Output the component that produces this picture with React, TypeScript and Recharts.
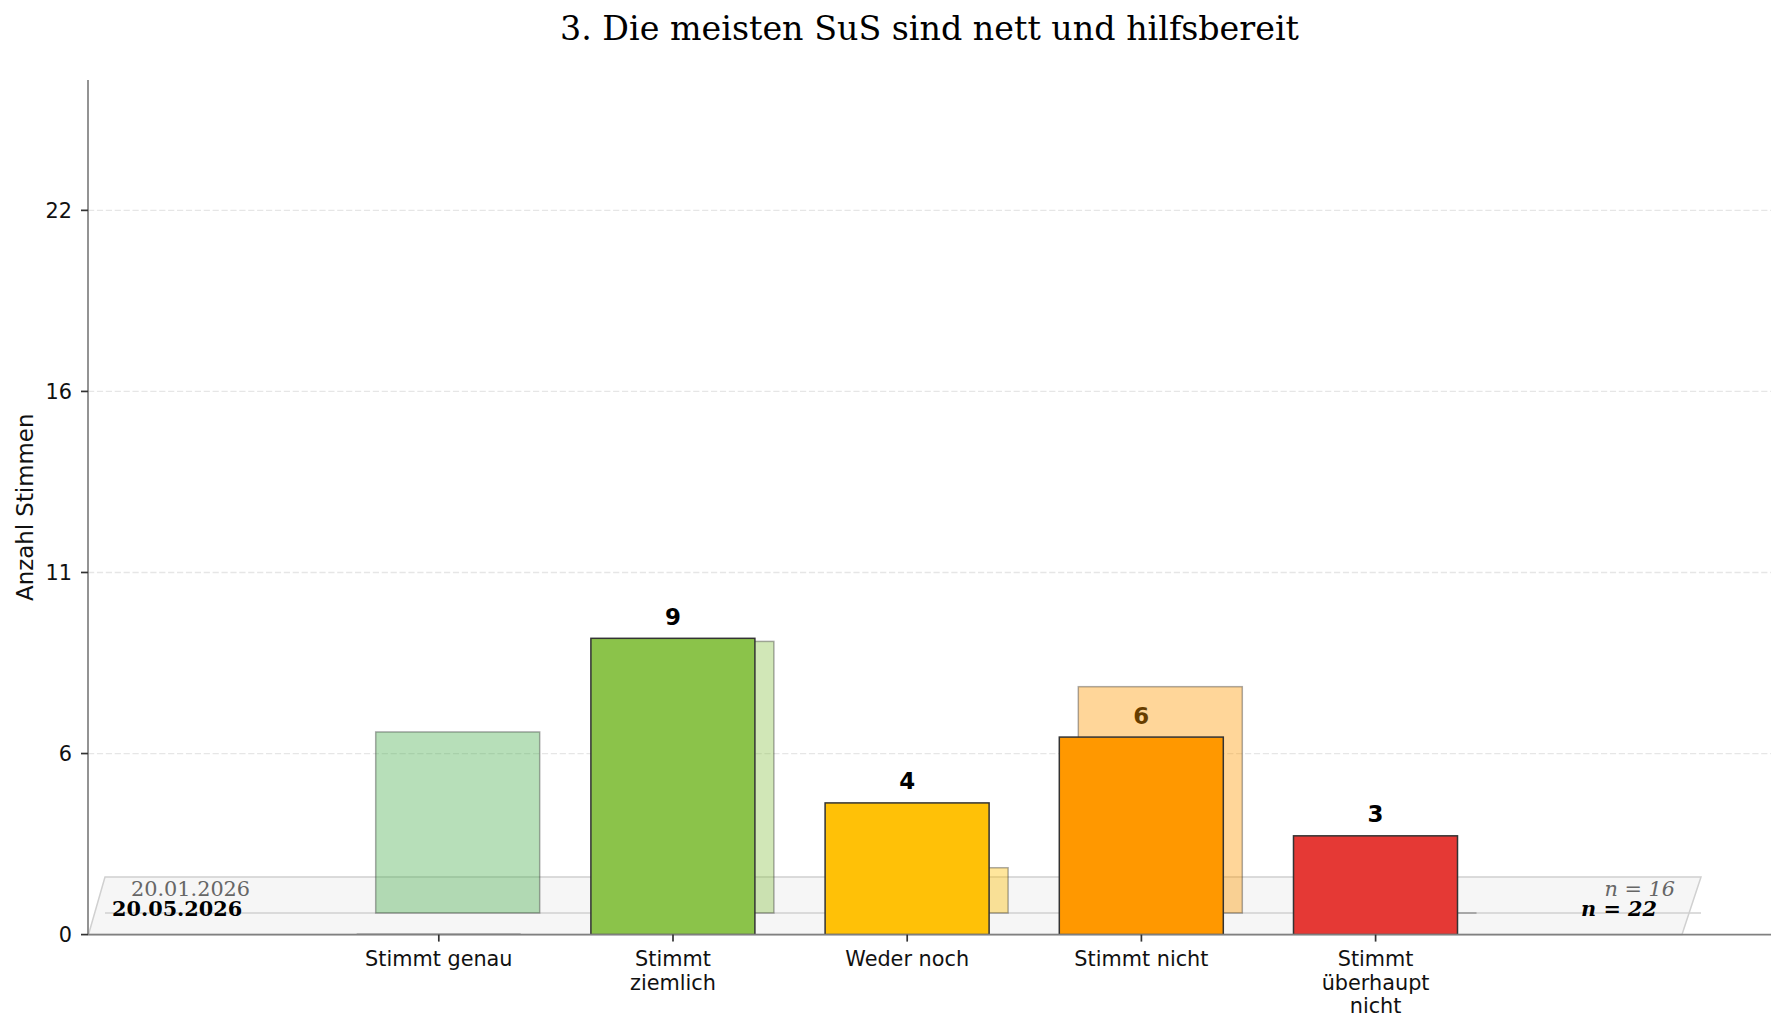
import React from 'react';
import { ComposedChart, Bar, XAxis, YAxis, ReferenceArea } from 'recharts';

// ---- data ----
const categories = [
  'Stimmt genau',
  'Stimmt\nziemlich',
  'Weder noch',
  'Stimmt nicht',
  'Stimmt\nüberhaupt\nnicht',
];
const barColors = ['#4caf50', '#8bc34a', '#ffc107', '#ff9800', '#e53935'];
const currentCounts = [0, 9, 4, 6, 3];
const previousCounts = [4, 6, 1, 5, 0];
const currentDate = '20.05.2026';
const previousDate = '20.01.2026';
const yTickValues = [0, 5.5, 11, 16.5, 22];
const yTickLabels = ['0', '6', '11', '16', '22'];
const title = '3. Die meisten SuS sind nett und hilfsbereit';
const yLabel = 'Anzahl Stimmen';

const nCurrent = currentCounts.reduce((a, b) => a + b, 0);
const nPrevious = previousCounts.reduce((a, b) => a + b, 0);

// previous survey is rescaled to the current number of votes
const data = categories.map((cat, i) => ({
  cat,
  current: currentCounts[i],
  previous: (previousCounts[i] * nCurrent) / nPrevious,
  color: barColors[i],
}));

// ---- layout ----
const W = 1785;
const H = 1031;
const MARGIN = { top: 80, right: 14, bottom: 16.4, left: 28 };
const Y_AXIS_W = 60;
const X_AXIS_H = 80;
const PLOT_LEFT = MARGIN.left + Y_AXIS_W;
const PLOT_RIGHT = W - MARGIN.right;
const PAD_LEFT = 233.7;
const PAD_RIGHT = 278.3;
const BAR_SIZE = 164;
const DEPTH_X = 19;
const DEPTH_Y = 21.6;
const FLOOR_DEPTH = 57.6;
const SANS = 'DejaVu Sans, sans-serif';
const SERIF = 'DejaVu Serif, serif';

function BackBar(props: any) {
  const { x, y, width, height, payload } = props;
  const bx = x + DEPTH_X;
  const by = y - DEPTH_Y;
  if (!height) {
    return (
      <line x1={bx} x2={bx + width} y1={by} y2={by} stroke="#333" strokeOpacity={0.4} strokeWidth={1.5} />
    );
  }
  return (
    <rect
      x={bx}
      y={by}
      width={width}
      height={height}
      fill={payload.color}
      fillOpacity={0.4}
      stroke="#333"
      strokeOpacity={0.4}
      strokeWidth={1.5}
    />
  );
}

function FrontBar(props: any) {
  const { x, y, width, height, payload } = props;
  if (!height) {
    return <line x1={x} x2={x + width} y1={y} y2={y} stroke="#333" strokeWidth={1.8} />;
  }
  return (
    <rect x={x} y={y} width={width} height={height} fill={payload.color} stroke="#333" strokeWidth={1.5} />
  );
}

// value text above each current bar; drawn beneath the translucent previous bars
function ValueShape(props: any) {
  const { x, y, width, payload } = props;
  if (!payload.current) return <g />;
  return (
    <text
      x={x + width / 2}
      y={y - 13.5}
      textAnchor="middle"
      fontFamily={SANS}
      fontWeight="bold"
      fontSize={22.9}
      fill="#000"
    >
      {payload.current}
    </text>
  );
}

function CategoryTick(props: any) {
  const { x, y, payload } = props;
  const lines = String(payload.value).split('\n');
  return (
    <g>
      {lines.map((line, i) => (
        <text
          key={i}
          x={x}
          y={y + 22.4 + i * 23.5}
          textAnchor="middle"
          fontFamily={SANS}
          fontSize={20.8}
          fill="#111"
        >
          {line}
        </text>
      ))}
    </g>
  );
}

// background layer: dashed grid rows at the y ticks plus the perspective floor.
// The area spans y = 0..1, so its height is the pixel length of one unit.
function Backdrop(props: any) {
  const { y, height } = props;
  const bottom = y + height;
  const unit = height;
  const top = bottom - FLOOR_DEPTH;
  const back = bottom - DEPTH_Y;
  const bl = PLOT_LEFT + 0.5;
  const br = PLOT_RIGHT - 89;
  const tl = PLOT_LEFT + 17;
  const tr = PLOT_RIGHT - 70;
  return (
    <g>
      {yTickValues
        .filter((v) => v > 0)
        .map((v) => (
          <line
            key={v}
            x1={PLOT_LEFT}
            x2={PLOT_RIGHT}
            y1={bottom - v * unit}
            y2={bottom - v * unit}
            stroke="#e6e6e6"
            strokeWidth={1.3}
            strokeDasharray="6.2 2.7"
          />
        ))}
      <polygon
        points={`${bl},${bottom} ${br},${bottom} ${tr},${top} ${tl},${top}`}
        fill="#f6f6f6"
        stroke="#d0d0d0"
        strokeWidth={1.5}
      />
      <line x1={tl} x2={tr} y1={back} y2={back} stroke="#d0d0d0" strokeWidth={1.5} />
      <text x={tl + 26} y={top + 18.5} fontFamily={SERIF} fontSize={20.8} fill="#666">
        {previousDate}
      </text>
      <text x={bl + 23.5} y={bottom - 18.3} fontFamily={SERIF} fontSize={20.8} fontWeight="bold" fill="#000">
        {currentDate}
      </text>
      <text
        x={tr - 26}
        y={top + 18.5}
        textAnchor="end"
        fontFamily={SERIF}
        fontStyle="italic"
        fontSize={20.8}
        fill="#666"
      >
        {`n = ${nPrevious}`}
      </text>
      <text
        x={br - 25}
        y={bottom - 18.3}
        textAnchor="end"
        fontFamily={SERIF}
        fontStyle="italic"
        fontWeight="bold"
        fontSize={20.8}
        fill="#000"
      >
        {`n = ${nCurrent}`}
      </text>
    </g>
  );
}

function YLabel(props: any) {
  const { viewBox } = props;
  const cx = viewBox.x + 5;
  const cy = viewBox.y + viewBox.height / 2;
  return (
    <text
      x={cx}
      y={cy}
      transform={`rotate(-90, ${cx}, ${cy})`}
      textAnchor="middle"
      fontFamily={SANS}
      fontSize={22.9}
      fill="#111"
    >
      {yLabel}
    </text>
  );
}

export default function App() {
  const yMax = nCurrent * 1.18;
  return (
    <div style={{ position: 'absolute', left: 0, top: 0, width: W, height: H, background: '#fff' }}>
      <div
        style={{
          position: 'absolute',
          left: PLOT_LEFT,
          width: PLOT_RIGHT - PLOT_LEFT,
          top: 11.8,
          textAlign: 'center',
          fontFamily: SERIF,
          fontSize: 33.3,
          lineHeight: '33.3px',
          color: '#000',
          whiteSpace: 'nowrap',
        }}
      >
        {title}
      </div>
      <ComposedChart width={W} height={H} data={data} margin={MARGIN}>
        <XAxis
          dataKey="cat"
          type="category"
          height={X_AXIS_H}
          padding={{ left: PAD_LEFT, right: PAD_RIGHT }}
          interval={0}
          axisLine={{ stroke: '#808080', strokeWidth: 1.7 }}
          tickLine={{ stroke: '#333', strokeWidth: 1.7 }}
          tickSize={7}
          tickMargin={2}
          tick={<CategoryTick />}
        />
        <XAxis xAxisId="back" dataKey="cat" type="category" padding={{ left: PAD_LEFT, right: PAD_RIGHT }} hide />
        <XAxis xAxisId="lbl" dataKey="cat" type="category" padding={{ left: PAD_LEFT, right: PAD_RIGHT }} hide />
        <YAxis
          width={Y_AXIS_W}
          domain={[0, yMax]}
          ticks={yTickValues}
          allowDataOverflow
          tickFormatter={(v: number) => yTickLabels[yTickValues.indexOf(v)] ?? String(v)}
          axisLine={{ stroke: '#808080', strokeWidth: 1.7 }}
          tickLine={{ stroke: '#333', strokeWidth: 1.7 }}
          tickSize={7}
          tickMargin={9}
          tick={{ fontFamily: SANS, fontSize: 20.8, fill: '#111' }}
          label={<YLabel />}
        />
        <ReferenceArea y1={0} y2={1} shape={<Backdrop />} ifOverflow="visible" />
        <Bar xAxisId="lbl" dataKey="current" barSize={BAR_SIZE} shape={<ValueShape />} isAnimationActive={false} />
        <Bar xAxisId="back" dataKey="previous" barSize={BAR_SIZE} shape={<BackBar />} isAnimationActive={false} />
        <Bar dataKey="current" barSize={BAR_SIZE} shape={<FrontBar />} isAnimationActive={false} />
      </ComposedChart>
    </div>
  );
}
